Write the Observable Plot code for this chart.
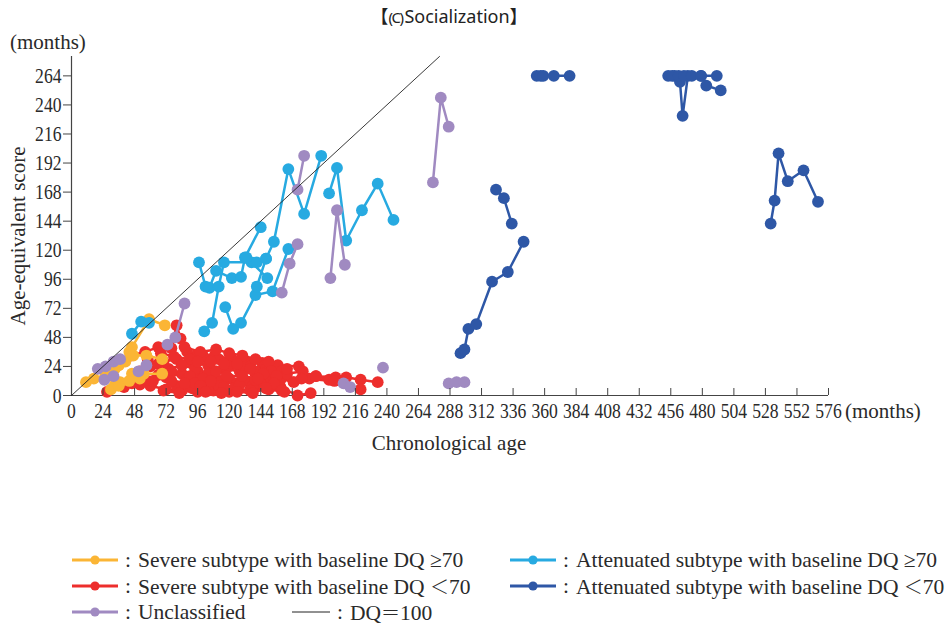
<!DOCTYPE html>
<html><head><meta charset="utf-8">
<script src="https://cdn.jsdelivr.net/npm/d3@7"></script>
<script src="https://cdn.jsdelivr.net/npm/@observablehq/plot@0.6"></script>
<style>
html,body{margin:0;padding:0;background:#fff;}
#wrap{position:relative;width:949px;height:625px;overflow:hidden;font-family:"Liberation Serif","Times New Roman","DejaVu Serif",serif;color:#2a2a2a;}
#chart{position:absolute;left:0;top:0;}
.t{position:absolute;white-space:nowrap;line-height:1;}
#title{left:0;width:898px;top:7px;text-align:center;font-family:"Noto Sans","Noto Sans CJK JP",sans-serif;font-size:18px;color:#222;}
#title .c{font-size:15px;letter-spacing:-1.5px;margin-right:2px;}
#ym{left:10px;top:32px;font-size:21px;}
#ylab{left:18px;top:236px;font-size:21px;transform:translate(-50%,-50%) rotate(-90deg);}
#xm{left:845px;top:401px;font-size:21px;}
#xlab{left:449px;top:433px;font-size:21px;transform:translateX(-50%);}
.row{position:absolute;height:26px;display:flex;align-items:center;font-size:21.5px;white-space:nowrap;}
.row svg{flex:none;}
.row .colon{display:inline-block;width:20px;text-align:center;}
.row .wide{font-family:"Noto Sans CJK JP",sans-serif;font-weight:300;font-size:19px;}
</style></head>
<body><div id="wrap">
<div id="chart"></div>
<div class="t" id="title">【<span class="c">(C)</span>Socialization】</div>
<div class="t" id="ym">(months)</div>
<div class="t" id="ylab">Age-equivalent score</div>
<div class="t" id="xm">(months)</div>
<div class="t" id="xlab">Chronological age</div>
<div id="legend"></div>
</div>
<script>
// ---- tick labels ----
const xTicks = [0,24,48,72,96,120,144,168,192,216,240,264,288,312,336,360,384,408,432,456,480,504,528,552,576];
const yTicks = [0,24,48,72,96,120,144,168,192,216,240,264];
const dqLine = [0, 280];

// ---- series: each inner array is one patient, [chronological age, age-equivalent score] ----
const severeHigh = [
  [[11,11],[17,14],[26,17],[33,22],[36,25],[41,28],[46,40],[59,63],[71,58]],
  [[33,9],[37,11],[46,18],[55,18],[69,18]],
  [[44,36],[47,33],[57,33],[69,30]],
  [[30,5],[36,8],[44,12],[52,14]]
];
const severeLow = [
  [[27,3],[40,7],[52,9],[60,8],[72,5],[84,4],[96,3],[108,4],[120,3],[136,5],[159,7],[172,0],[182,2]],
  [[45,33],[56,36],[66,40],[76,39],[80,58],[83,47],[88,36],[96,34],[109,33],[122,30],[134,27],[145,27],[157,25],[173,24]],
  [[52,20],[60,24],[70,28],[80,30],[92,27],[104,25],[116,22],[128,20],[140,18],[152,16],[169,11],[181,14],[186,16],[196,13],[209,15],[220,13],[233,11]],
  [[62,12],[72,15],[84,18],[96,20],[108,17],[120,14],[132,12],[144,10],[159,13],[186,16],[201,15]],
  [[68,35],[78,32],[90,30],[100,33],[112,30],[124,28],[136,24],[148,22],[160,20]],
  [[74,22],[84,25],[94,22],[104,18],[114,12],[126,10],[138,8],[150,5],[162,3]],
  [[58,30],[66,26],[76,20],[88,14],[100,10],[112,8],[124,6],[136,4]],
  [[80,8],[92,6],[104,4],[116,7],[128,9],[140,13],[152,14],[164,18],[176,20]],
  [[86,40],[98,36],[110,38],[120,35],[130,33],[140,30],[150,28]],
  [[90,16],[100,14],[110,20],[120,24],[130,22],[140,20],[152,20],[164,22]],
  [[96,28],[106,28],[116,26],[126,26],[136,22],[146,18],[156,16],[175,14],[200,12],[220,5]],
  [[70,4],[82,2],[94,10],[106,12],[118,16],[130,16],[142,14],[154,10]],
  [[46,10],[56,13],[66,17],[76,12],[86,10],[98,8]],
  [[102,3],[114,2],[126,3],[138,2],[148,6],[160,4]]
];
const attHigh = [
  [[46,51],[53,61],[59,60]],
  [[97,110],[102,90],[105,89],[110,103],[122,97],[129,98],[132,114],[144,139]],
  [[101,53],[107,60],[112,90],[116,110],[137,110],[149,97]],
  [[117,73],[123,55],[129,60],[140,83],[153,86],[165,121]],
  [[133,114],[141,110],[148,113]],
  [[141,90],[148,113],[154,127],[165,187],[177,150],[190,198]],
  [[196,167],[202,188],[209,128],[221,153],[233,175],[245,145]]
];
const attLow = [
  [[296,35],[299,38],[302,55],[308,59],[320,94],[332,102],[344,127]],
  [[323,170],[329,163],[335,142]],
  [[354,264],[357,264],[359,264],[367,264],[379,264]],
  [[454,264],[459,264],[463,259],[465,231],[469,264],[479,264],[491,264]],
  [[457,264],[462,264],[466,264],[472,264],[479,264],[483,256],[494,252]],
  [[532,142],[535,161],[538,200],[545,177],[557,186],[568,160]]
];
const unclassified = [
  [[275,176],[281,246],[287,222]],
  [[172,170],[177,198]],
  [[160,85],[166,109],[172,125]],
  [[197,97],[202,153],[208,108]],
  [[73,42],[79,48],[86,76]],
  [[20,22],[26,24],[32,28],[37,30]],
  [[25,13],[32,16]],
  [[51,20],[57,25]],
  [[207,10],[212,7]],
  [[237,23]],
  [[287,10],[293,11],[299,11]]
];

const groupNames = ["severeLow","severeHigh","attHigh","attLow","unclassified"];
const groupData = {severeLow, severeHigh, attHigh, attLow, unclassified};
const groupColors = {severeLow:"#ED2E2C", severeHigh:"#FBB535", attHigh:"#27AAE1", attLow:"#2E57A6", unclassified:"#A08AC1"};

const legendItems = [
  {g:"severeHigh", text:"Severe subtype with baseline DQ ≥70", col:0, row:0},
  {g:"attHigh", text:"Attenuated subtype with baseline DQ ≥70", col:1, row:0},
  {g:"severeLow", text:"Severe subtype with baseline DQ <span class='wide'>＜</span>70", col:0, row:1},
  {g:"attLow", text:"Attenuated subtype with baseline DQ <span class='wide'>＜</span>70", col:1, row:1},
  {g:"unclassified", text:"Unclassified", col:0, row:2},
  {g:"dq", text:"DQ<span class='wide'>＝</span>100", col:2, row:2}
];

// ---- build table ----
const rows = [];
for (const g of groupNames) {
  groupData[g].forEach((s, i) => s.forEach(([x, y]) => rows.push({g, id: g + i, x, y})));
}

const marks = [
  Plot.ruleY([0], {stroke:"#444", strokeWidth:1.2}),
  Plot.ruleX([0], {stroke:"#444", strokeWidth:1.2})
];
for (const g of groupNames) {
  const d = rows.filter(r => r.g === g);
  marks.push(Plot.line(d, {x:"x", y:"y", z:"id", stroke:groupColors[g], strokeWidth:2.5}));
  marks.push(Plot.dot(d, {x:"x", y:"y", fill:groupColors[g], r:5.9}));
}
marks.push(Plot.line(dqLine, {x:d=>d, y:d=>d, stroke:"#222", strokeWidth:0.9}));
marks.push(Plot.axisY({ticks:yTicks, tickSize:8, tickPadding:2, label:null, stroke:"#444"}));
marks.push(Plot.axisX({ticks:xTicks, tickSize:-7, tickPadding:14, label:null, stroke:"#444"}));

const chart = Plot.plot({
  width:949, height:470,
  marginLeft:71, marginRight:121, marginTop:56, marginBottom:75,
  x:{domain:[0,576]}, y:{domain:[0,280]},
  style:{fontFamily:"'Liberation Serif','Times New Roman',serif", fontSize:"22px", color:"#2a2a2a", background:"transparent", overflow:"visible"},
  marks
});
document.getElementById("chart").appendChild(chart);
// condense tick labels like the reference's narrow serif digits
chart.querySelectorAll("text").forEach(t => {
  const w = t.getComputedTextLength();
  if (w > 0) { t.setAttribute("textLength", (w * 0.8).toFixed(1)); t.setAttribute("lengthAdjust", "spacingAndGlyphs"); }
});

// ---- legend ----
const legend = document.getElementById("legend");
const colX = [72, 510, 292];
const rowY = [560, 586, 612];
for (const it of legendItems) {
  const div = document.createElement("div");
  div.className = "row";
  div.style.left = colX[it.col] + "px";
  div.style.top = (rowY[it.row] - 13) + "px";
  const sw = it.g === "dq" ? 38 : 46;
  let svg = `<svg width="${sw}" height="26">`;
  if (it.g === "dq") svg += `<line x1="0" x2="${sw}" y1="13" y2="13" stroke="#222" stroke-width="1"/>`;
  else svg += `<line x1="0" x2="${sw}" y1="13" y2="13" stroke="${groupColors[it.g]}" stroke-width="3"/><circle cx="${sw/2}" cy="13" r="4.6" fill="${groupColors[it.g]}"/>`;
  svg += `</svg>`;
  div.innerHTML = svg + `<span class="colon">:</span><span>${it.text}</span>`;
  legend.appendChild(div);
}
</script>
</body></html>
